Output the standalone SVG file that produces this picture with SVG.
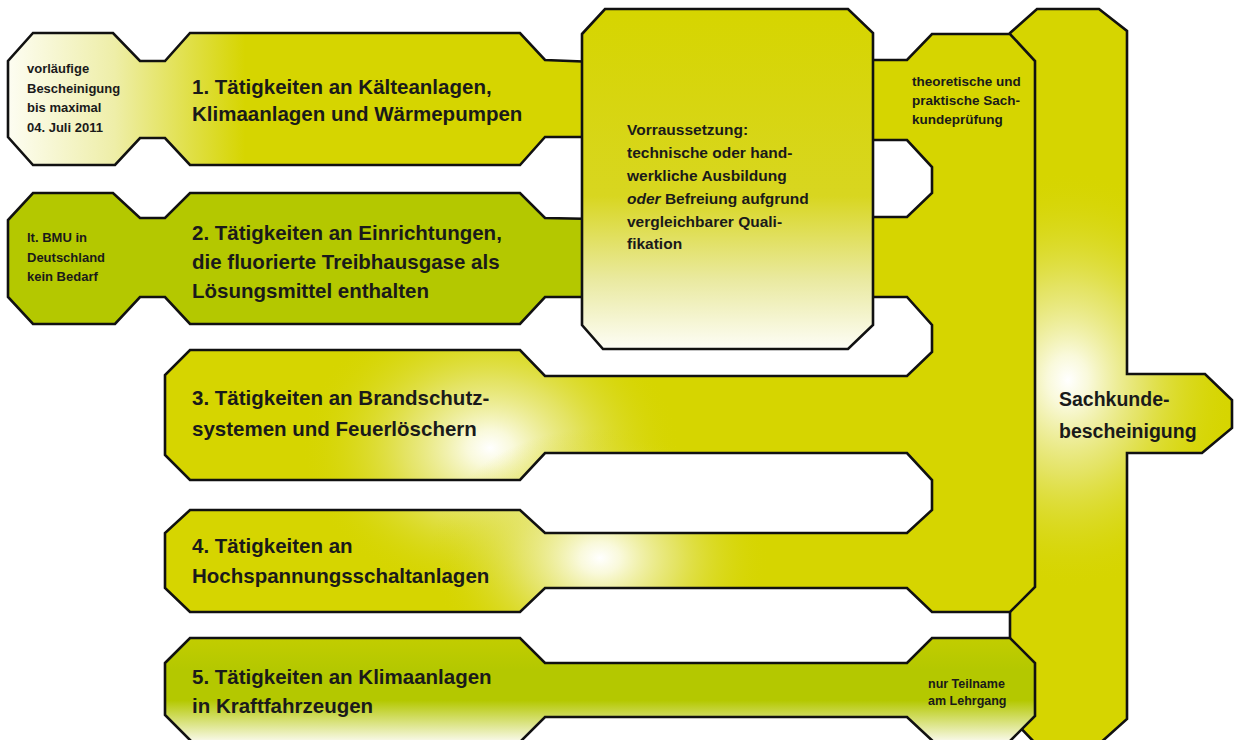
<svg xmlns="http://www.w3.org/2000/svg" width="1235" height="740" viewBox="0 0 1235 740">
<style>
.sh{stroke:#111;stroke-width:2.6;stroke-linejoin:miter}
.t{font-family:"Liberation Sans",Arial,sans-serif;font-weight:bold;fill:#1a1a1a}
.big{font-size:20.5px}
.mid{font-size:15.5px}
.sm{font-size:13px}
</style>
<defs>
<linearGradient id="gRow1" gradientUnits="userSpaceOnUse" x1="8" y1="0" x2="245" y2="0">
<stop offset="0" stop-color="#fdfdf2"/>
<stop offset="0.45" stop-color="#eeeea8"/>
<stop offset="1" stop-color="#d6d500"/>
</linearGradient>
<linearGradient id="gCentral" gradientUnits="userSpaceOnUse" x1="0" y1="9" x2="0" y2="349">
<stop offset="0" stop-color="#d6d500"/>
<stop offset="0.55" stop-color="#d8d620"/>
<stop offset="0.8" stop-color="#eaeaa2"/>
<stop offset="1" stop-color="#fdfdf6"/>
</linearGradient>
<linearGradient id="gRow5" gradientUnits="userSpaceOnUse" x1="0" y1="638" x2="0" y2="742">
<stop offset="0" stop-color="#c2cd00"/>
<stop offset="0.3" stop-color="#b4c800"/>
<stop offset="0.6" stop-color="#b4c800"/>
<stop offset="1" stop-color="#fafaee"/>
</linearGradient>
<radialGradient id="gGlow" gradientUnits="objectBoundingBox" cx="0.5" cy="0.5" r="0.5">
<stop offset="0" stop-color="#ffffff" stop-opacity="1"/>
<stop offset="0.12" stop-color="#fbfbe6" stop-opacity="0.95"/>
<stop offset="0.45" stop-color="#ebeb98" stop-opacity="0.65"/>
<stop offset="0.75" stop-color="#dfdf48" stop-opacity="0.3"/>
<stop offset="1" stop-color="#d6d500" stop-opacity="0"/>
</radialGradient>
<path id="netPath" d="M865,60 L907,60 L932,34 L1010,34 L1035,61 L1035,587 L1010,612 L932,612 L907,588 L545,588 L520,612 L190,612 L165,588 L165,533 L190,510 L520,510 L545,533 L907,533 L932,510 L932,480 L907,453 L545,453 L520,480 L190,480 L165,455 L165,375 L190,350 L520,350 L545,376 L907,376 L932,352 L932,325 L907,297 L865,297 L865,217 L907,217 L932,193 L932,167 L907,140 L865,140 Z"/>
<path id="colPath" d="M1010,33 L1037,9 L1099,9 L1127,31 L1127,374 L1205,374 L1232,400 L1232,428 L1202,453 L1127,453 L1127,719 L1098,745 L1037,745 L1010,717 Z"/>
<clipPath id="clipNet"><use href="#netPath"/></clipPath>
<clipPath id="clipCol"><use href="#colPath"/></clipPath>
</defs>
<rect width="1235" height="740" fill="#ffffff"/>

<g id="sachkunde">
<use href="#colPath" fill="#d6d500"/>
<g clip-path="url(#clipCol)">
<ellipse cx="1068" cy="380" rx="170" ry="210" fill="url(#gGlow)"/>
</g>
<use href="#colPath" class="sh" fill="none"/>
<text class="t" style="font-size:19.5px" x="1059" y="406">Sachkunde-</text>
<text class="t" style="font-size:19.5px" x="1059" y="438">bescheinigung</text>
</g>

<g id="connectors">
<use href="#netPath" fill="#d6d500"/>
<g clip-path="url(#clipNet)">
<ellipse cx="490" cy="448" rx="190" ry="150" fill="url(#gGlow)"/>
<ellipse cx="600" cy="558" rx="170" ry="130" fill="url(#gGlow)"/>
</g>
<use href="#netPath" class="sh" fill="none"/>
</g>

<g id="row1">
<path class="sh" fill="url(#gRow1)" d="M33,33 L113,33 L140,61 L165,61 L190,33 L520,33 L545,60 L595,62 L595,137 L545,137 L520,165 L190,165 L165,138 L140,138 L115,165 L33,165 L8,137 L8,61 Z"/>
</g>

<g id="row2">
<path class="sh" fill="#b4c800" d="M33,193 L113,193 L140,218 L165,218 L190,193 L520,193 L545,218 L595,219 L595,297 L545,297 L520,324 L190,324 L165,297 L140,297 L115,324 L33,324 L8,297 L8,220 Z"/>
</g>

<g id="central">
<path class="sh" fill="url(#gCentral)" d="M582,34 L605,9 L848,9 L873,33 L873,325 L848,349 L603,349 L582,325 Z"/>
<text class="t mid" x="627" y="135">Vorraussetzung:</text>
<text class="t mid" x="627" y="158">technische oder hand-</text>
<text class="t mid" x="627" y="181">werkliche Ausbildung</text>
<text class="t mid" x="627" y="204"><tspan font-style="italic">oder</tspan> Befreiung aufgrund</text>
<text class="t mid" x="627" y="227">vergleichbarer Quali-</text>
<text class="t mid" x="627" y="249">fikation</text>
</g>

<g id="row5">
<path class="sh" fill="url(#gRow5)" d="M165,663 L190,638 L520,638 L545,663 L907,663 L932,638 L1010,638 L1035,663 L1035,716 L1006,745 L937,745 L907,717 L545,717 L517,745 L195,745 L165,715 Z"/>
</g>

<g id="boxA">
<text class="t sm" x="27" y="73">vorläufige</text>
<text class="t sm" x="27" y="93">Bescheinigung</text>
<text class="t sm" x="27" y="112">bis maximal</text>
<text class="t sm" x="27" y="132">04. Juli 2011</text>
</g>
<g id="box1">
<text class="t big" x="192" y="94">1. Tätigkeiten an Kälteanlagen,</text>
<text class="t big" x="192" y="121">Klimaanlagen und Wärmepumpen</text>
</g>
<g id="boxB">
<text class="t sm" x="27" y="242">lt. BMU in</text>
<text class="t sm" x="27" y="262">Deutschland</text>
<text class="t sm" x="27" y="281">kein Bedarf</text>
</g>
<g id="box2">
<text class="t big" x="192" y="240">2. Tätigkeiten an Einrichtungen,</text>
<text class="t big" x="192" y="269">die fluorierte Treibhausgase als</text>
<text class="t big" x="192" y="298">Lösungsmittel enthalten</text>
</g>
<g id="theory">
<text class="t" style="font-size:13.5px" x="912" y="86">theoretische und</text>
<text class="t" style="font-size:13.5px" x="912" y="105">praktische Sach-</text>
<text class="t" style="font-size:13.5px" x="912" y="124">kundeprüfung</text>
</g>
<g id="box3">
<text class="t big" x="192" y="405">3. Tätigkeiten an Brandschutz-</text>
<text class="t big" x="192" y="436">systemen und Feuerlöschern</text>
</g>
<g id="box4">
<text class="t big" x="192" y="553">4. Tätigkeiten an</text>
<text class="t big" x="192" y="583">Hochspannungsschaltanlagen</text>
</g>
<g id="box5">
<text class="t big" x="192" y="684">5. Tätigkeiten an Klimaanlagen</text>
<text class="t big" x="192" y="713">in Kraftfahrzeugen</text>
</g>
<g id="nur">
<text class="t" style="font-size:12.5px" x="928" y="688">nur Teilname</text>
<text class="t" style="font-size:12.5px" x="928" y="705">am Lehrgang</text>
</g>
</svg>
